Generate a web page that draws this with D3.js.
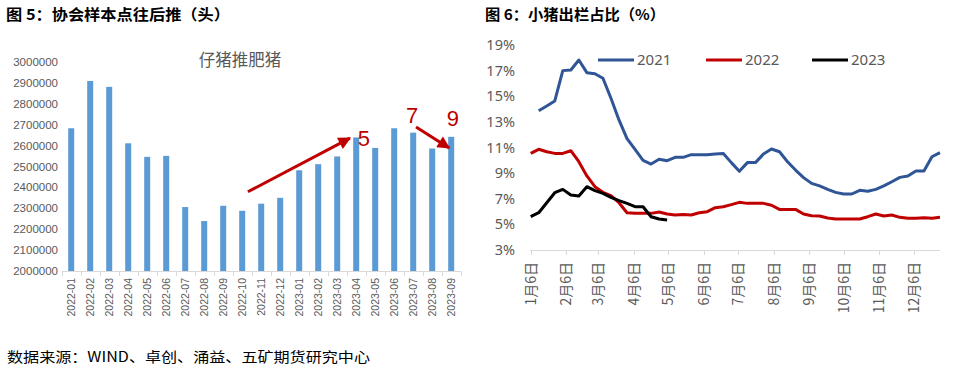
<!DOCTYPE html>
<html><head><meta charset="utf-8">
<script src="https://cdn.jsdelivr.net/npm/d3@7"></script>
<style>body{margin:0;background:#fff}svg{display:block}</style>
</head><body>
<svg id="c" width="962" height="375"></svg>
<script>
// ---------- Data: left chart ----------
const months = ["2022-01","2022-02","2022-03","2022-04","2022-05","2022-06","2022-07","2022-08","2022-09","2022-10","2022-11","2022-12","2023-01","2023-02","2023-03","2023-04","2023-05","2023-06","2023-07","2023-08","2023-09"];
const pigletValues = [2683000,2909000,2881000,2611000,2546000,2551000,2306000,2239000,2312000,2288000,2322000,2350000,2482000,2511000,2548000,2639000,2589000,2683000,2662000,2586000,2642000];
const leftTicks = [2000000,2100000,2200000,2300000,2400000,2500000,2600000,2700000,2800000,2900000,3000000];
// annotations: [category index (fractional), value]
const arrows = [
  {from:[9.3, 2379000], to:[14.67, 2636000]},
  {from:[18.15, 2689000], to:[19.89, 2589000]}
];
const notes = [
  {text:"5", at:[15.41, 2636000]},
  {text:"7", at:[17.94, 2745000]},
  {text:"9", at:[20.09, 2730000]}
];

// ---------- Data: right chart ----------
const weekStart = new Date(2021,0,6);
const s2021 = [null,13.87,14.24,14.63,17.0,17.05,17.83,16.84,16.76,16.4,14.84,13.15,11.7,10.85,10.0,9.71,10.08,9.97,10.23,10.23,10.44,10.44,10.44,10.49,10.54,9.82,9.14,9.82,9.82,10.49,10.88,10.67,9.89,9.24,8.65,8.2,8.0,7.73,7.5,7.37,7.37,7.66,7.58,7.73,8.0,8.33,8.67,8.78,9.17,9.17,10.28,10.6];
const s2022 = [10.54,10.86,10.67,10.54,10.54,10.75,9.89,8.78,7.94,7.5,7.24,6.69,5.91,5.86,5.86,5.86,5.97,5.81,5.73,5.78,5.73,5.91,5.99,6.3,6.38,6.54,6.72,6.64,6.64,6.64,6.49,6.17,6.17,6.17,5.81,5.68,5.65,5.5,5.42,5.42,5.42,5.42,5.6,5.81,5.65,5.73,5.55,5.47,5.47,5.52,5.47,5.55];
const s2023 = [5.6,5.91,6.69,7.47,7.73,7.29,7.21,7.94,7.63,7.42,7.11,6.85,6.64,6.38,6.38,5.6,5.42,5.34];
const seriesNames = ["2021","2022","2023"];
const seriesColors = ["#2f5597","#c00000","#000000"];
const rightTicks = [3,5,7,9,11,13,15,17,19];
const monthTickLabels = ["1月6日","2月6日","3月6日","4月6日","5月6日","6月6日","7月6日","8月6日","9月6日","10月6日","11月6日","12月6日"];

const svg = d3.select("#c");
const gray = "#595959";

// ---------- Titles ----------
svg.append("text").attr("x",6).attr("y",20).attr("font-family","'Noto Sans CJK SC'").attr("font-weight","bold")
  .attr("font-size",15).attr("fill","#000").attr("textLength",224).attr("lengthAdjust","spacingAndGlyphs")
  .text("图 5：协会样本点往后推（头）");
svg.append("text").attr("x",485).attr("y",20).attr("font-family","'Noto Sans CJK SC'").attr("font-weight","bold")
  .attr("font-size",15).attr("fill","#000").attr("textLength",180).attr("lengthAdjust","spacingAndGlyphs")
  .text("图 6：小猪出栏占比（%）");
svg.append("text").attr("x",7).attr("y",362).attr("font-family","'Noto Sans CJK SC'")
  .attr("font-size",14).attr("fill","#000").attr("textLength",363).attr("lengthAdjust","spacingAndGlyphs")
  .text("数据来源：WIND、卓创、涌益、五矿期货研究中心");

// ---------- Left chart ----------
const xL = d3.scaleBand().domain(months).range([61.7,460.7]).paddingInner(0.684).paddingOuter(0.342);
const yL = d3.scaleLinear().domain([2000000,3000000]).range([271,62]);
const step = xL.step();
const annX = i => xL.range()[0] + (i + 0.5) * step;

const gL = svg.append("g");
gL.selectAll("rect.bar").data(months).join("rect")
  .attr("x", d => xL(d)).attr("width", xL.bandwidth())
  .attr("y", (d,i) => yL(pigletValues[i])).attr("height", (d,i) => yL(2000000) - yL(pigletValues[i]))
  .attr("fill","#5b9bd5");

gL.selectAll("text.yl").data(leftTicks).join("text")
  .attr("x",58).attr("y", d => yL(d)).attr("dy","0.35em").attr("text-anchor","end")
  .attr("font-family","'Liberation Sans',Arial").attr("font-size",11.5).attr("fill",gray)
  .text(d => d3.format("d")(d));

// axis baseline and ticks
gL.append("line").attr("x1",61.7).attr("x2",460.7).attr("y1",yL(2000000)+0.5).attr("y2",yL(2000000)+0.5)
  .attr("stroke","#d9d9d9").attr("stroke-width",1);
gL.selectAll("line.tk").data(d3.range(months.length+1)).join("line")
  .attr("x1", i => Math.round(xL.range()[0] + i*step)+0.5).attr("x2", i => Math.round(xL.range()[0] + i*step)+0.5)
  .attr("y1", yL(2000000)).attr("y2", yL(2000000)+5).attr("stroke","#d9d9d9");
gL.selectAll("text.xl").data(months).join("text")
  .attr("transform", d => `translate(${xL(d)+xL.bandwidth()/2},278) rotate(-90)`)
  .attr("text-anchor","end").attr("dy","0.35em")
  .attr("font-family","'Liberation Sans',Arial").attr("font-size",10.5).attr("fill",gray)
  .text(d => d);

gL.append("text").attr("x",240).attr("y",66).attr("text-anchor","middle")
  .attr("font-family","'Noto Sans CJK SC'").attr("font-size",16.5).attr("fill",gray).text("仔猪推肥猪");

// arrows
const defs = svg.append("defs");
defs.append("marker").attr("id","ah").attr("viewBox","0 0 10 10").attr("refX",9).attr("refY",5)
  .attr("markerWidth",4.6).attr("markerHeight",4.2).attr("orient","auto").attr("markerUnits","strokeWidth")
  .append("path").attr("d","M0,0 L10,5 L0,10 Z").attr("fill","#c00000");
arrows.forEach(a => {
  gL.append("line").attr("x1",annX(a.from[0])).attr("y1",yL(a.from[1]))
    .attr("x2",annX(a.to[0])).attr("y2",yL(a.to[1]))
    .attr("stroke","#c00000").attr("stroke-width",3).attr("marker-end","url(#ah)");
});
notes.forEach(n => {
  gL.append("text").attr("x",annX(n.at[0])).attr("y",yL(n.at[1])).attr("dy","0.35em").attr("text-anchor","middle")
    .attr("font-family","'Liberation Sans',Arial").attr("font-size",22).attr("fill","#c00000").text(n.text);
});

// ---------- Right chart ----------
const weekDate = i => d3.timeDay.offset(weekStart, 7*i);
const xR = d3.scaleTime().domain([weekStart, weekDate(51)]).range([530.7,940]);
const yR = d3.scaleLinear().domain([3,19]).range([250,45]);
const gR = svg.append("g");

gR.selectAll("text.yr").data(rightTicks).join("text")
  .attr("x",515).attr("y", d => yR(d)).attr("dy","0.35em").attr("text-anchor","end")
  .attr("font-family","'Noto Sans',sans-serif").attr("font-size",14.5).attr("fill",gray)
  .text(d => d + "%");

const monthTicks = d3.range(12).map(m => new Date(2021, m, 6));
gR.append("line").attr("x1",530).attr("x2",940).attr("y1",250.5).attr("y2",250.5).attr("stroke","#d9d9d9");
gR.selectAll("line.tk").data(monthTicks).join("line")
  .attr("x1", d => Math.round(xR(d))+0.5).attr("x2", d => Math.round(xR(d))+0.5)
  .attr("y1",250).attr("y2",255).attr("stroke","#d9d9d9");
gR.selectAll("text.xr").data(monthTicks).join("text")
  .attr("transform", d => `translate(${xR(d)},262) rotate(-90)`)
  .attr("text-anchor","end").attr("dy","0.35em")
  .attr("font-family","'Noto Sans CJK SC'").attr("font-size",14).attr("fill",gray)
  .text((d,i) => monthTickLabels[i]);

const line = d3.line().defined(d => d != null).x((d,i) => xR(weekDate(i))).y(d => yR(d));
[s2021, s2022, s2023].forEach((s,k) => {
  gR.append("path").datum(s).attr("d", line).attr("fill","none")
    .attr("stroke", seriesColors[k]).attr("stroke-width",3).attr("stroke-linejoin","round");
});

// legend
const legX = [598, 706, 812];
seriesNames.forEach((n,k) => {
  gR.append("line").attr("x1",legX[k]).attr("x2",legX[k]+36).attr("y1",60).attr("y2",60)
    .attr("stroke",seriesColors[k]).attr("stroke-width",3);
  gR.append("text").attr("x",legX[k]+39).attr("y",60).attr("dy","0.35em")
    .attr("font-family","'Noto Sans',sans-serif").attr("font-size",15).attr("fill",gray).text(n);
});
</script>
</body></html>
